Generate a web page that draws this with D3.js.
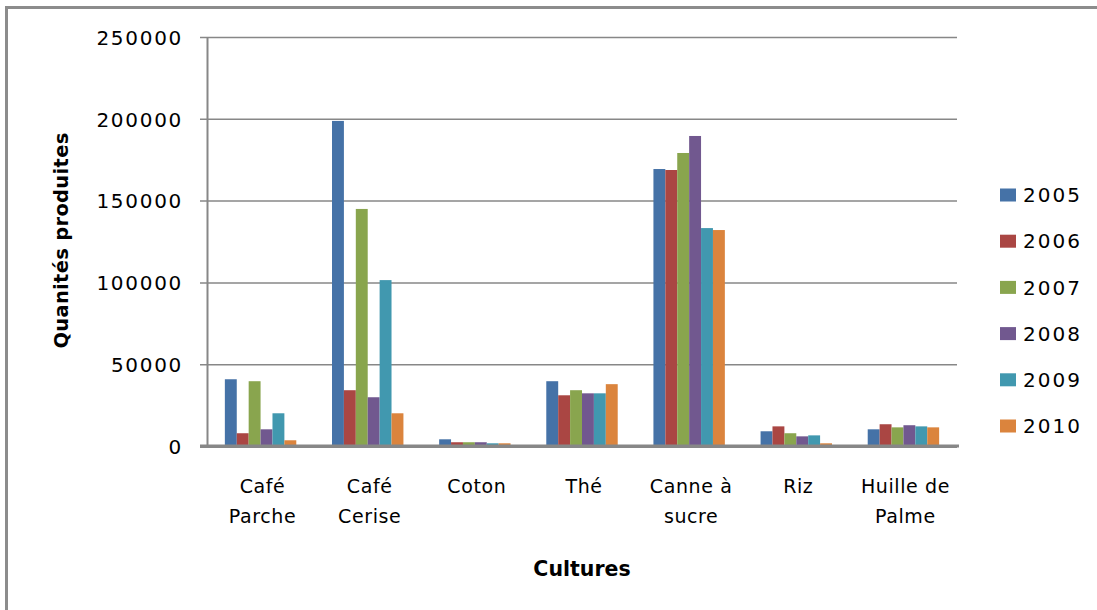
<!DOCTYPE html>
<html>
<head>
<meta charset="utf-8">
<script src="https://cdn.jsdelivr.net/npm/d3@7"></script>
<style>
  html, body { margin: 0; padding: 0; background: #ffffff; }
  svg { display: block; }
</style>
</head>
<body>
<svg id="chart" width="1097" height="610"></svg>
<script>
// ---- data ----
const categories = [["Café", "Parche"], ["Café", "Cerise"], ["Coton"], ["Thé"], ["Canne à", "sucre"], ["Riz"], ["Huille de", "Palme"]];
const seriesNames = ["2005", "2006", "2007", "2008", "2009", "2010"];
const values2005 = [40800, 198700, 4100, 39600, 169300, 9000, 10200];
const values2006 = [7800, 34100, 2300, 31000, 168700, 12000, 13300];
const values2007 = [39600, 144900, 2300, 34100, 179100, 7800, 11400];
const values2008 = [10200, 29800, 2300, 32200, 189500, 5900, 12700];
const values2009 = [20000, 101400, 1650, 32200, 133200, 6500, 12000];
const values2010 = [3500, 20000, 1650, 37800, 132000, 1650, 11400];
const yTicks = [0, 50000, 100000, 150000, 200000, 250000];
const colors = ["#4572A7", "#AA4643", "#89A54E", "#71588F", "#4198AF", "#DB843D"];

const allSeries = [values2005, values2006, values2007, values2008, values2009, values2010];

// ---- layout ----
const svg = d3.select("#chart");
const plotLeft = 207, plotRight = 957, plotTop = 37, plotBottom = 446;
const catKeys = categories.map(c => c.join(" "));

const x0 = d3.scaleBand().domain(catKeys).range([plotLeft, plotRight]).padding(0);
const x1 = d3.scaleBand().domain(seriesNames).range([0, x0.bandwidth()]).paddingInner(0).paddingOuter(1.5);
const y = d3.scaleLinear().domain([0, 250000]).range([plotBottom, plotTop]);

const grid = "#878787";

// chart frame (top and left visible)
svg.append("line").attr("x1", 5).attr("x2", 1097).attr("y1", 7.5).attr("y2", 7.5)
  .attr("stroke", "#8c8c8c").attr("stroke-width", 3);
svg.append("line").attr("x1", 6.5).attr("x2", 6.5).attr("y1", 6).attr("y2", 610)
  .attr("stroke", "#8c8c8c").attr("stroke-width", 3);

// gridlines + tick labels
const yAxis = d3.axisLeft(y).tickValues(yTicks).tickSize(0).tickPadding(24).tickFormat(d3.format("d"));
const gAxis = svg.append("g").attr("transform", `translate(${plotLeft},0)`).call(yAxis);
gAxis.select(".domain").remove();
gAxis.selectAll(".tick line")
  .attr("x1", -7).attr("x2", plotRight - plotLeft)
  .attr("stroke", grid).attr("stroke-width", d => d === 0 ? 3 : 1.5);
gAxis.selectAll(".tick text")
  .attr("font-family", "DejaVu Sans")
  .attr("font-size", 20)
  .attr("letter-spacing", "1.7px")
  .attr("fill", "#000")
  .attr("dy", "0.36em");

// bars
const groups = svg.append("g").selectAll("g")
  .data(categories.map((c, i) => ({ key: catKeys[i], i })))
  .join("g")
  .attr("transform", d => `translate(${x0(d.key)},0)`);

groups.selectAll("rect")
  .data(d => seriesNames.map((s, j) => ({ s, j, v: allSeries[j][d.i] })))
  .join("rect")
  .attr("x", d => x1(d.s))
  .attr("width", x1.bandwidth())
  .attr("y", d => y(d.v))
  .attr("height", d => y(0) - y(d.v))
  .attr("fill", d => colors[d.j]);

// vertical axis line
svg.append("line").attr("x1", plotLeft + 0.5).attr("x2", plotLeft + 0.5).attr("y1", plotTop).attr("y2", plotBottom + 1)
  .attr("stroke", grid).attr("stroke-width", 2);
// baseline on top
svg.append("line").attr("x1", plotLeft - 7).attr("x2", plotRight + 2).attr("y1", plotBottom).attr("y2", plotBottom)
  .attr("stroke", grid).attr("stroke-width", 3);

// x category labels
const xl = svg.append("g");
categories.forEach((lines, i) => {
  const cx = x0(catKeys[i]) + x0.bandwidth() / 2 + 2;
  const t = xl.append("text")
    .attr("x", cx).attr("y", 493)
    .attr("text-anchor", "middle")
    .attr("font-family", "DejaVu Sans")
    .attr("font-size", 19)
    .attr("letter-spacing", "0.6px")
    .attr("fill", "#000");
  lines.forEach((ln, k) => {
    t.append("tspan").attr("x", cx).attr("dy", k === 0 ? 0 : 30).text(ln);
  });
});

// axis titles
svg.append("text")
  .attr("transform", `translate(68,${(plotTop + plotBottom) / 2 - 1}) rotate(-90)`)
  .attr("text-anchor", "middle")
  .attr("font-family", "DejaVu Sans")
  .attr("font-weight", "bold")
  .attr("font-size", 19.5)
  .attr("letter-spacing", "0.3px")
  .attr("fill", "#000")
  .text("Quanités produites");

svg.append("text")
  .attr("x", (plotLeft + plotRight) / 2).attr("y", 576)
  .attr("text-anchor", "middle")
  .attr("font-family", "DejaVu Sans")
  .attr("font-weight", "bold")
  .attr("font-size", 20.5)
  .attr("fill", "#000")
  .text("Cultures");

// legend
const leg = svg.append("g").selectAll("g")
  .data(seriesNames)
  .join("g")
  .attr("transform", (d, i) => `translate(1000,${195 + i * 46.2})`);
leg.append("rect").attr("x", 0).attr("y", -6.5).attr("width", 16).attr("height", 13)
  .attr("fill", (d, i) => colors[i]);
leg.append("text").attr("x", 23).attr("y", 0).attr("dy", "0.36em")
  .attr("font-family", "DejaVu Sans")
  .attr("font-size", 20)
  .attr("letter-spacing", "2px")
  .attr("fill", "#000")
  .text(d => d);
</script>
</body>
</html>
